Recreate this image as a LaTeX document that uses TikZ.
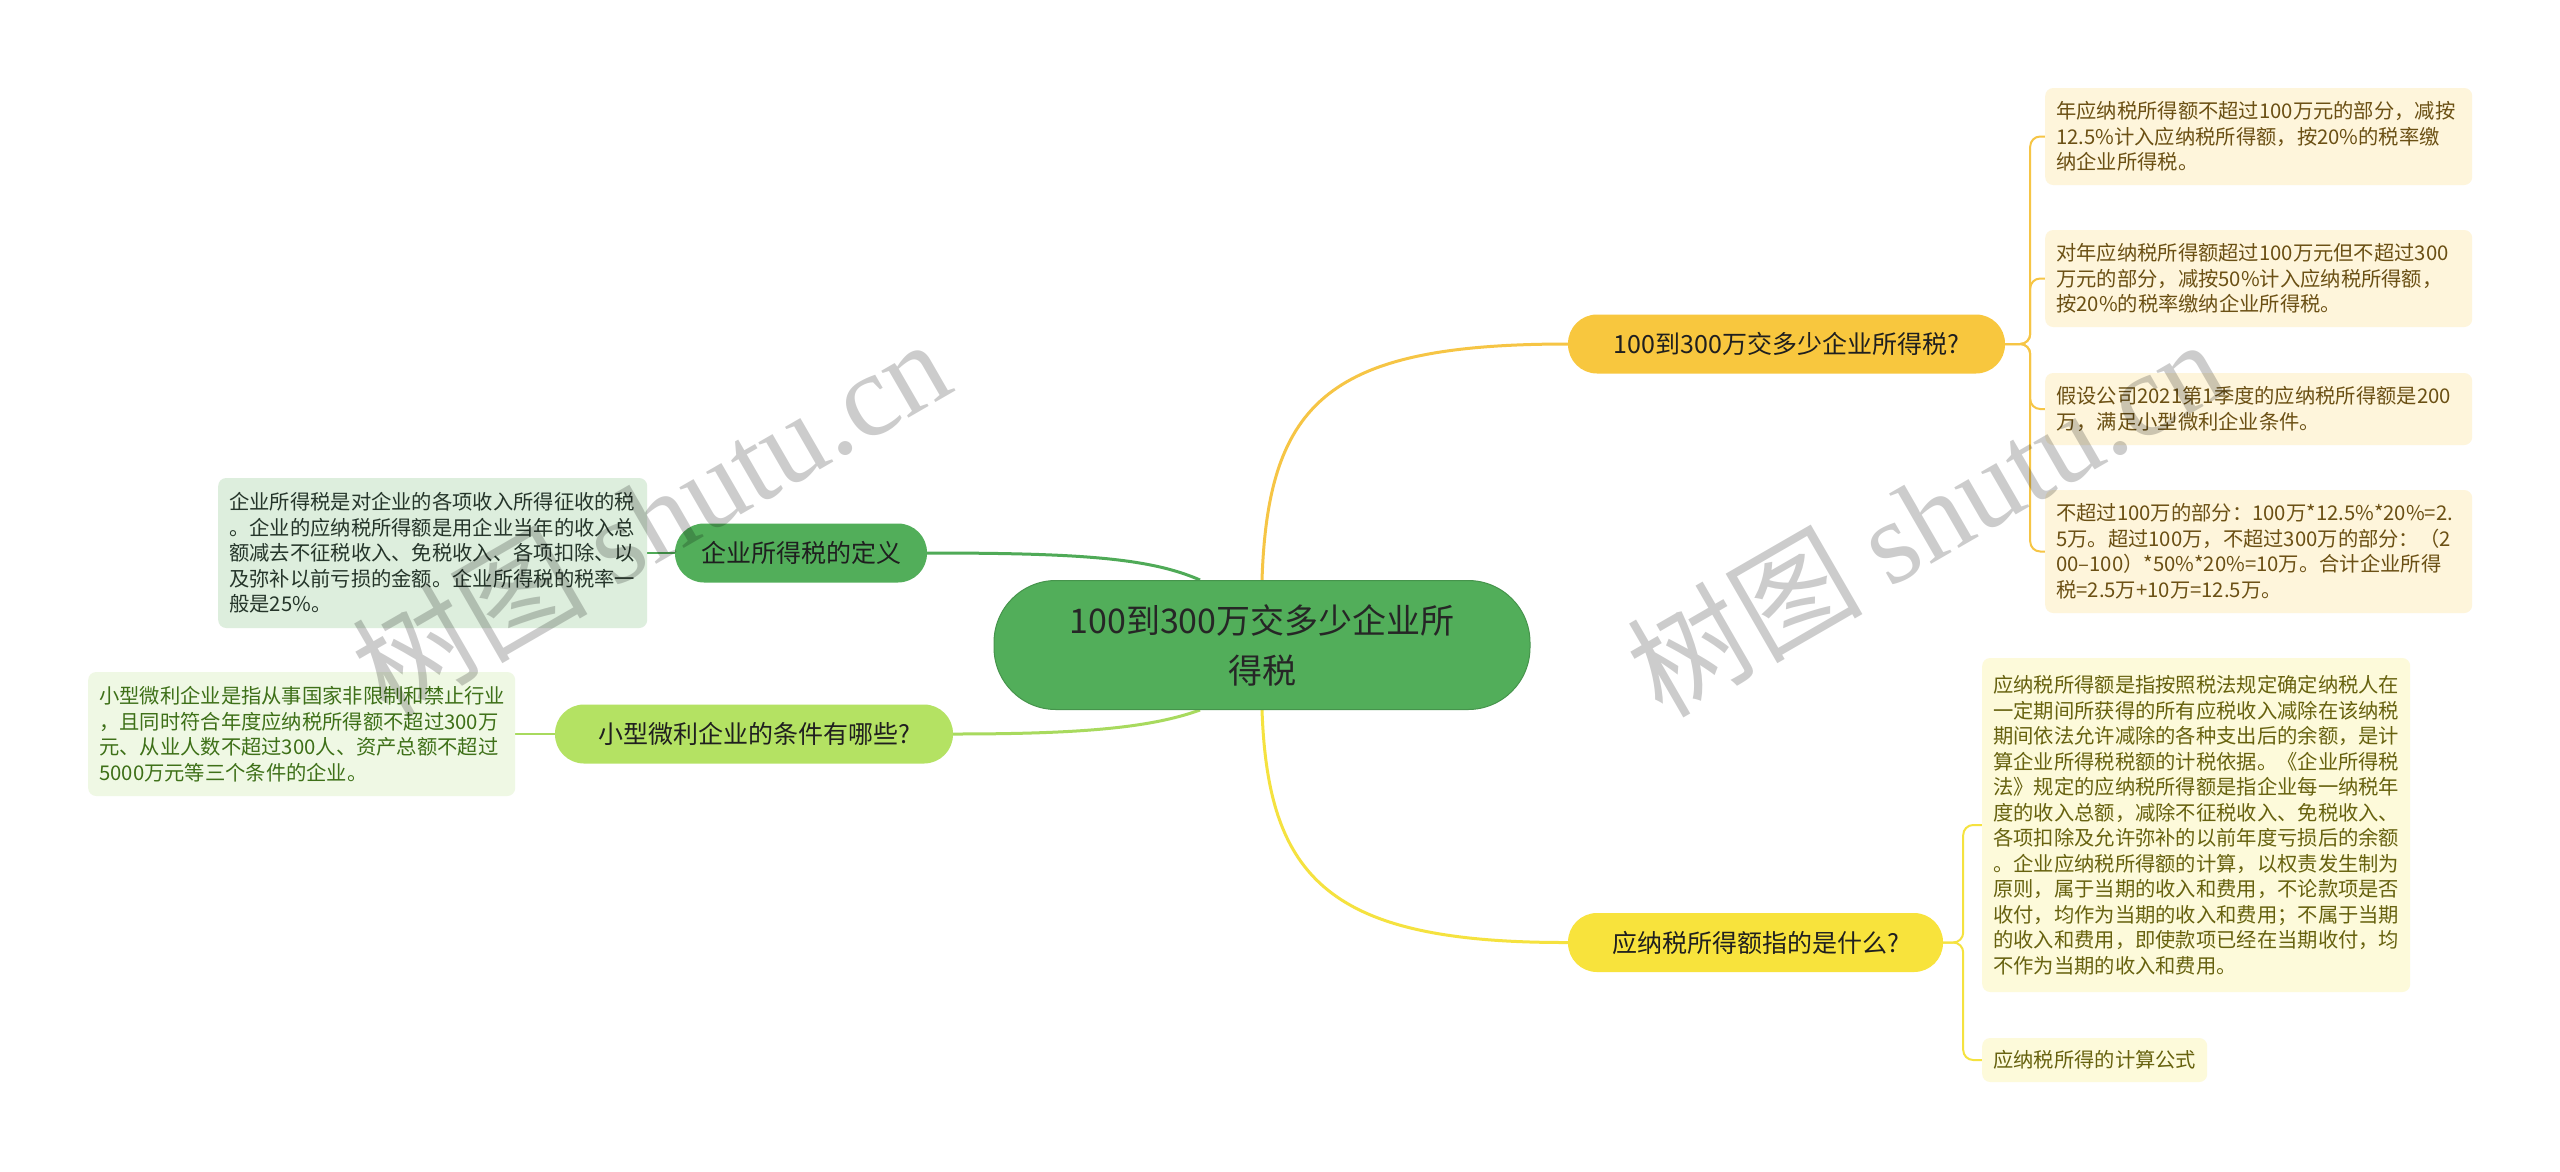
\documentclass[tikz,border=0pt]{standalone}
\usepackage{fontspec}
\setmainfont{Noto Sans CJK SC}
\newfontfamily\wmlatin{Liberation Serif}
\usetikzlibrary{calc,backgrounds}
\definecolor{cgreen}{HTML}{52AE5A}
\definecolor{corange}{HTML}{F8C73E}
\definecolor{cyellow}{HTML}{F8E33C}
\definecolor{clgreen}{HTML}{B4E263}
\definecolor{boxO}{HTML}{FEF5DB}
\definecolor{txtO}{HTML}{6B5014}
\definecolor{boxY}{HTML}{FDFADA}
\definecolor{txtY}{HTML}{67620F}
\definecolor{boxG}{HTML}{DDEEDD}
\definecolor{txtG}{HTML}{25352A}
\definecolor{boxL}{HTML}{EFF8E4}
\definecolor{txtL}{HTML}{3E7018}
\definecolor{lineO}{HTML}{F6C545}
\definecolor{lineY}{HTML}{F5E23F}
\definecolor{lineG}{HTML}{4FAA57}
\definecolor{lineL}{HTML}{A8DA5E}
\tikzset{
  mainnode/.style={fill=cgreen, draw=cgreen!85!black, line width=1pt, rounded corners=62pt,
    minimum width=536pt, minimum height=129pt, align=center,
    font=\fontsize{34pt}{50pt}\selectfont, text=black!85},
  topic/.style={rounded corners=29pt, minimum height=59pt, inner xsep=0pt,
    font=\fontsize{25pt}{30pt}\selectfont, text=black!88},
  leaf/.style={rounded corners=8pt, align=left, inner xsep=11pt, inner ysep=0pt,
    font=\fontsize{20.3pt}{25.5pt}\selectfont, anchor=west},
  wm/.style={rotate=30, text=black, text opacity=0.2, font=\fontsize{118pt}{118pt}\selectfont},
  thick1/.style={line width=3pt},
  thin1/.style={line width=2pt, rounded corners=10pt}
}
\begin{document}
\begin{tikzpicture}[x=1pt,y=-1pt]
\useasboundingbox (0,0) rectangle (2560,1171);

% central
\node[mainnode] (c) at (1262,645) {100到300万交多少企业所\\得税};

% topics
\node[topic, fill=corange, minimum width=437pt] (q1) at (1786.5,344) {100到300万交多少企业所得税?};
\node[topic, fill=cyellow, minimum width=375pt] (q2) at (1755.5,942.5) {应纳税所得额指的是什么?};
\node[topic, fill=cgreen, minimum width=252pt] (q3) at (801,553) {企业所得税的定义};
\node[topic, fill=clgreen, minimum width=398pt] (q4) at (754,734) {小型微利企业的条件有哪些?};

% orange leaves
\node[leaf, fill=boxO, text=txtO, text width=405pt, minimum height=97pt] (o1) at (2045,136.5)
 {年应纳税所得额不超过100万元的部分，减按\\12.5\%计入应纳税所得额，按20\%的税率缴\\纳企业所得税。};
\node[leaf, fill=boxO, text=txtO, text width=405pt, minimum height=97pt] (o2) at (2045,278.5)
 {对年应纳税所得额超过100万元但不超过300\\万元的部分，减按50\%计入应纳税所得额，\\按20\%的税率缴纳企业所得税。};
\node[leaf, fill=boxO, text=txtO, text width=405pt, minimum height=72pt] (o3) at (2045,409)
 {假设公司2021第1季度的应纳税所得额是200\\万，满足小型微利企业条件。};
\node[leaf, fill=boxO, text=txtO, text width=405pt, minimum height=123pt] (o4) at (2045,551.5)
 {不超过100万的部分：100万*12.5\%*20\%=2.\\5万。超过100万，不超过300万的部分：（2\\00–100）*50\%*20\%=10万。合计企业所得\\税=2.5万+10万=12.5万。};

% yellow leaves
\node[leaf, fill=boxY, text=txtY, text width=406pt, minimum height=334pt] (y1) at (1982,825)
 {应纳税所得额是指按照税法规定确定纳税人在\\一定期间所获得的所有应税收入减除在该纳税\\期间依法允许减除的各种支出后的余额，是计\\算企业所得税税额的计税依据。《企业所得税\\法》规定的应纳税所得额是指企业每一纳税年\\度的收入总额，减除不征税收入、免税收入、\\各项扣除及允许弥补的以前年度亏损后的余额\\。企业应纳税所得额的计算，以权责发生制为\\原则，属于当期的收入和费用，不论款项是否\\收付，均作为当期的收入和费用；不属于当期\\的收入和费用，即使款项已经在当期收付，均\\不作为当期的收入和费用。};
\node[leaf, fill=boxY, text=txtY, minimum height=44pt] (y2) at (1982,1060) {应纳税所得的计算公式};

% left leaves
\node[leaf, fill=boxG, text=txtG, text width=407pt, minimum height=150pt] (g1) at (218,553)
 {企业所得税是对企业的各项收入所得征收的税\\。企业的应纳税所得额是用企业当年的收入总\\额减去不征税收入、免税收入、各项扣除、以\\及弥补以前亏损的金额。企业所得税的税率一\\般是25\%。};
\node[leaf, fill=boxL, text=txtL, text width=405pt, minimum height=124pt] (l1) at (88,734)
 {小型微利企业是指从事国家非限制和禁止行业\\，且同时符合年度应纳税所得额不超过300万\\元、从业人数不超过300人、资产总额不超过\\5000万元等三个条件的企业。};

\begin{pgfonlayer}{background}
\fill[white] (0,0) rectangle (2560,1171);
\draw[lineO, thick1] (c.north) .. controls (1268,400) and (1330,344) .. (q1.west);
\draw[lineY, thick1] (c.south) .. controls (1268,880) and (1330,943) .. (q2.west);
\draw[lineG, thick1] (q3.east) .. controls (1080,553) and (1150,558) .. ($(c.north)+(-62,0)$);
\draw[lineL, thick1] (q4.east) .. controls (1080,734) and (1150,728) .. ($(c.south)+(-62,0)$);
\draw[lineG, line width=2.5pt] (q3.west) -- (g1.east);
\draw[lineL, line width=2.5pt] (q4.west) -- (l1.east);
\foreach \n in {o1,o2,o3,o4}{
  \draw[lineO, thin1] (q1.east) -- ++(25,0) |- (\n.west);
}
\foreach \n in {y1,y2}{
  \draw[lineY, thin1] (q2.east) -- ++(20,0) |- (\n.west);
}
\end{pgfonlayer}

% watermarks
\node[wm] (wm1) at (650,516) {树图 {\wmlatin shutu.cn}};
\node[wm] (wm2) at (1925,516) {树图 {\wmlatin shutu.cn}};
\end{tikzpicture}
\end{document}
